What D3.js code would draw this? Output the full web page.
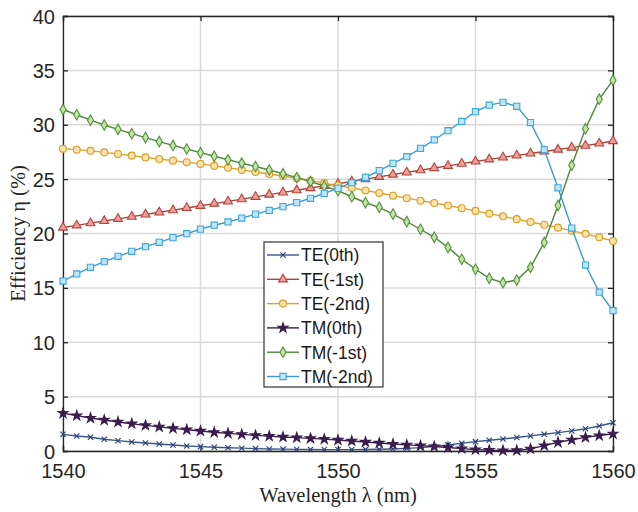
<!DOCTYPE html>
<html>
<head>
<meta charset="utf-8">
<script src="https://cdn.jsdelivr.net/npm/d3@7"></script>
<style>
  body { margin: 0; background: #fff; }
</style>
</head>
<body>
<div id="chart"></div>
<script>
// wavelength samples, 0.5 nm step
const wavelengths = d3.range(1540, 1560.001, 0.5);

const xTicks = [1540, 1545, 1550, 1555, 1560];
const yTicks = [0, 5, 10, 15, 20, 25, 30, 35, 40];

const seriesNames = ["TE(0th)", "TE(-1st)", "TE(-2nd)", "TM(0th)", "TM(-1st)", "TM(-2nd)"];

// efficiency values (%)
const te0 = [1.53, 1.38, 1.26, 1.08, 0.95, 0.83, 0.74, 0.64, 0.55, 0.46,
  0.40, 0.35, 0.30, 0.26, 0.22, 0.19, 0.17, 0.15, 0.14, 0.13,
  0.13, 0.13, 0.14, 0.16, 0.19, 0.24, 0.31, 0.42, 0.56, 0.71,
  0.86, 0.99, 1.10, 1.24, 1.39, 1.54, 1.69, 1.85, 2.04, 2.30, 2.60];
const te1 = [20.55, 20.75, 20.95, 21.15, 21.35, 21.55, 21.75, 21.95, 22.15, 22.35,
  22.55, 22.75, 22.95, 23.16, 23.37, 23.58, 23.78, 23.98, 24.18, 24.38,
  24.58, 24.79, 25.00, 25.21, 25.42, 25.62, 25.82, 26.02, 26.22, 26.42,
  26.62, 26.82, 27.00, 27.18, 27.36, 27.54, 27.72, 27.90, 28.08, 28.28, 28.50];
const te2 = [27.80, 27.71, 27.60, 27.46, 27.31, 27.16, 27.00, 26.85, 26.70, 26.55,
  26.40, 26.22, 26.04, 25.85, 25.65, 25.47, 25.29, 25.08, 24.86, 24.63,
  24.40, 24.18, 23.96, 23.72, 23.48, 23.25, 23.02, 22.80, 22.57, 22.33,
  22.08, 21.83, 21.58, 21.32, 21.06, 20.80, 20.54, 20.26, 19.97, 19.65, 19.31];
const tm0 = [3.47, 3.25, 3.03, 2.85, 2.67, 2.51, 2.36, 2.22, 2.08, 1.96,
  1.84, 1.72, 1.62, 1.53, 1.44, 1.37, 1.29, 1.23, 1.16, 1.09,
  1.01, 0.92, 0.83, 0.74, 0.64, 0.56, 0.49, 0.41, 0.32, 0.22,
  0.13, 0.07, 0.04, 0.05, 0.20, 0.50, 0.80, 1.02, 1.25, 1.42, 1.58];
const tm1 = [31.40, 30.92, 30.42, 29.98, 29.58, 29.18, 28.82, 28.45, 28.10, 27.77,
  27.43, 27.10, 26.78, 26.47, 26.16, 25.84, 25.50, 25.14, 24.77, 24.37,
  23.94, 23.38, 22.83, 22.41, 21.79, 21.09, 20.39, 19.65, 18.72, 17.63,
  16.71, 15.88, 15.48, 15.72, 16.89, 19.18, 22.58, 26.28, 29.64, 32.35, 34.10];
const tm2 = [15.63, 16.28, 16.89, 17.41, 17.90, 18.36, 18.79, 19.19, 19.62, 19.98,
  20.40, 20.76, 21.06, 21.42, 21.78, 22.12, 22.47, 22.84, 23.24, 23.69,
  24.15, 24.67, 25.17, 25.78, 26.45, 27.06, 27.83, 28.60, 29.45, 30.30,
  31.20, 31.80, 32.06, 31.70, 30.20, 27.70, 24.20, 20.50, 17.10, 14.60, 12.90];

const seriesValues = [te0, te1, te2, tm0, tm1, tm2];

// line colour, marker stroke, marker fill, marker shape, marker size
const styles = [
  { line: "#3d5688", stroke: "#2a3f78", fill: "#2a3f78", symbol: d3.symbolTimes, size: 20 },
  { line: "#a5463f", stroke: "#b8433a", fill: "#eba19b", symbol: d3.symbolTriangle, size: 34 },
  { line: "#dca22e", stroke: "#dd9c22", fill: "#f8e2ad", symbol: d3.symbolCircle, size: 38 },
  { line: "#3a1d4c", stroke: "#3a1d4c", fill: "#3a1d4c", symbol: d3.symbolStar, size: 30 },
  { line: "#4d8838", stroke: "#4f913a", fill: "#c4e3a7", symbol: d3.symbolDiamond, size: 32 },
  { line: "#3b9bcf", stroke: "#3ea7dc", fill: "#bfe6f8", symbol: d3.symbolSquare, size: 38 }
];

const width = 638;
const height = 512;
const margin = { top: 16, right: 25, bottom: 61, left: 63 };

const x = d3.scaleLinear()
  .domain([1540, 1560])
  .range([margin.left, width - margin.right]);

const y = d3.scaleLinear()
  .domain([0, 40])
  .range([height - margin.bottom, margin.top]);

const svg = d3.select("#chart")
  .append("svg")
  .attr("width", width)
  .attr("height", height)
  .style("font-family", "'Liberation Sans', Arial, sans-serif");

// grid lines
const grid = svg.append("g").attr("class", "grid");

grid.selectAll("line.gx")
  .data(xTicks)
  .enter()
  .append("line")
  .attr("class", "gx")
  .attr("x1", (d) => x(d))
  .attr("x2", (d) => x(d))
  .attr("y1", y(0))
  .attr("y2", y(40))
  .attr("stroke", "#d9d9d9")
  .attr("stroke-width", 1.5);

grid.selectAll("line.gy")
  .data(yTicks)
  .enter()
  .append("line")
  .attr("class", "gy")
  .attr("x1", x(1540))
  .attr("x2", x(1560))
  .attr("y1", (d) => y(d))
  .attr("y2", (d) => y(d))
  .attr("stroke", "#d9d9d9")
  .attr("stroke-width", 1.5);

// axes, ticks point inwards like matlab
const axisColor = "#262626";

const xAxis = svg.append("g")
  .attr("transform", `translate(0,${y(0)})`)
  .call(d3.axisBottom(x).tickValues(xTicks).tickFormat(d3.format("d")).tickSize(-5));

const yAxis = svg.append("g")
  .attr("transform", `translate(${x(1540)},0)`)
  .call(d3.axisLeft(y).tickValues(yTicks).tickSize(-5));

svg.append("g")
  .attr("transform", `translate(0,${y(40)})`)
  .call(d3.axisTop(x).tickValues(xTicks).tickFormat("").tickSize(-5));

svg.append("g")
  .attr("transform", `translate(${x(1560)},0)`)
  .call(d3.axisRight(y).tickValues(yTicks).tickFormat("").tickSize(-5));

svg.selectAll(".domain, .tick line")
  .attr("stroke", axisColor)
  .attr("stroke-width", 1.3);

svg.selectAll(".tick text")
  .attr("fill", axisColor)
  .style("font-size", "20px")
  .style("font-family", "'Liberation Sans', Arial, sans-serif");

// put the labels where matlab puts them
xAxis.selectAll(".tick text").attr("y", 13).attr("dy", "0.72em");
yAxis.selectAll(".tick text").attr("x", -8).attr("dy", "0.35em");

// axis titles (serif, like the original)
svg.append("text")
  .attr("x", x(1550))
  .attr("y", 502)
  .attr("text-anchor", "middle")
  .style("font-family", "'Liberation Serif', 'Times New Roman', serif")
  .style("font-size", "20.5px")
  .attr("fill", axisColor)
  .text("Wavelength λ (nm)");

svg.append("text")
  .attr("transform", `translate(25,${y(20)}) rotate(-90)`)
  .attr("text-anchor", "middle")
  .style("font-family", "'Liberation Serif', 'Times New Roman', serif")
  .style("font-size", "20.5px")
  .attr("fill", axisColor)
  .text("Efficiency η (%)");

// the curves
const line = d3.line()
  .x((d) => x(d[0]))
  .y((d) => y(d[1]));

const series = seriesNames.map((name, i) => ({
  name: name,
  style: styles[i],
  points: wavelengths.map((w, j) => [w, seriesValues[i][j]])
}));

const curve = svg.selectAll("g.series")
  .data(series)
  .enter()
  .append("g")
  .attr("class", "series");

curve.append("path")
  .attr("d", (d) => line(d.points))
  .attr("fill", "none")
  .attr("stroke", (d) => d.style.line)
  .attr("stroke-width", 1.4);

curve.each((d, i, arr) => {
  d3.select(arr[i])
    .selectAll("path.marker")
    .data(d.points)
    .enter()
    .append("path")
    .attr("class", "marker")
    .attr("transform", (p) => `translate(${x(p[0])},${y(p[1])})`)
    .attr("d", d3.symbol().type(d.style.symbol).size(d.style.size))
    .attr("fill", d.style.fill)
    .attr("stroke", d.style.stroke)
    .attr("stroke-width", 1.1);
});

// legend
const legendX = 264;
const legendY = 242;
const rowH = 24.3;

const legend = svg.append("g").attr("class", "legend");

legend.append("rect")
  .attr("x", legendX)
  .attr("y", legendY)
  .attr("width", 119)
  .attr("height", 145)
  .attr("fill", "#fff")
  .attr("stroke", "#333")
  .attr("stroke-width", 1.2);

const item = legend.selectAll("g.item")
  .data(series)
  .enter()
  .append("g")
  .attr("class", "item")
  .attr("transform", (d, i) => `translate(${legendX},${legendY + 13 + i * rowH})`);

item.append("line")
  .attr("x1", 3)
  .attr("x2", 35)
  .attr("stroke", (d) => d.style.line)
  .attr("stroke-width", 1.4);

item.append("path")
  .attr("transform", "translate(19,0)")
  .attr("d", (d) => d3.symbol().type(d.style.symbol).size(d.style.size)())
  .attr("fill", (d) => d.style.fill)
  .attr("stroke", (d) => d.style.stroke)
  .attr("stroke-width", 1.1);

item.append("text")
  .attr("x", 37)
  .attr("dy", "0.36em")
  .style("font-size", "17.5px")
  .attr("fill", "#1a1a1a")
  .text((d) => d.name);
</script>
</body>
</html>
